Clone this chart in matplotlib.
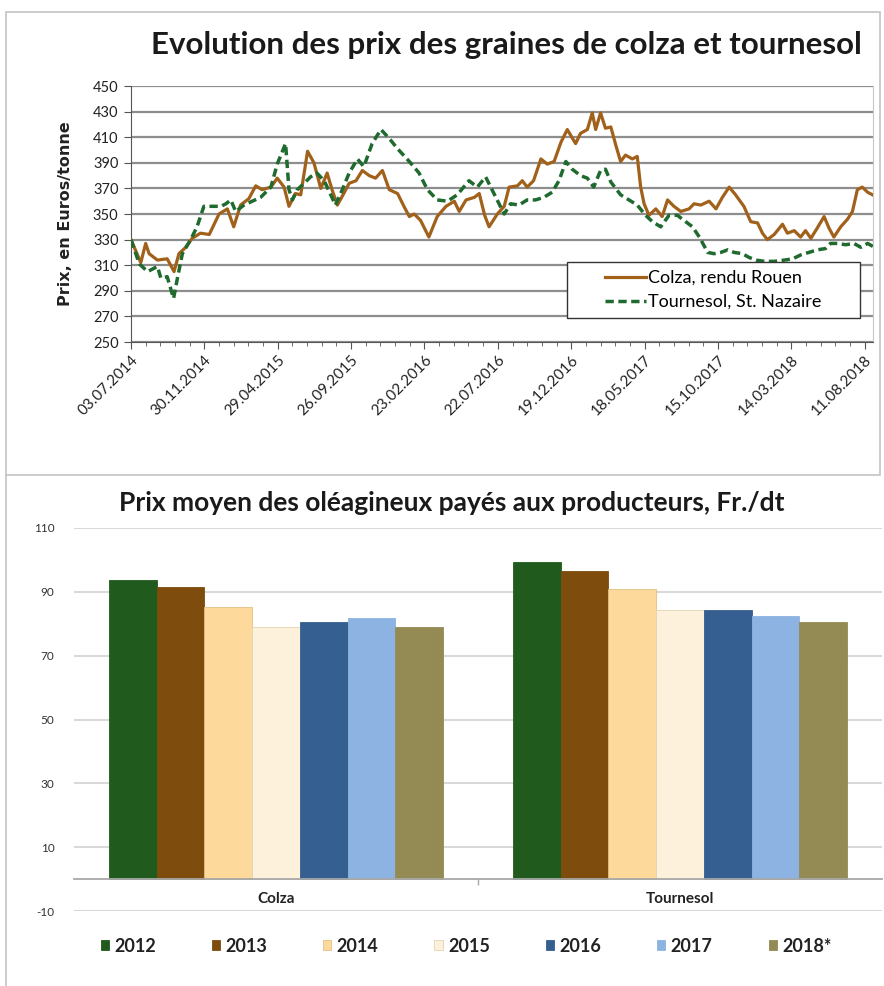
import numpy as np
import pandas as pd
import matplotlib
matplotlib.use('Agg')
import matplotlib.pyplot as plt
import matplotlib.dates as mdates
from matplotlib.patches import Patch, Rectangle
from matplotlib.lines import Line2D

plt.rcParams['axes.unicode_minus'] = False

# --- données du graphique du haut (prix en euros/tonne) ---
start_date = '2014-07-03'

colza_days = [0, 20, 30, 37, 54, 74, 88, 98, 112, 125, 142, 160, 180, 197, 210, 224, 241, 255, 268, 286,
              299, 313, 323, 336, 347, 361, 374, 388, 401, 411, 422, 435, 446, 460, 473, 487, 500, 514, 528, 545,
              558, 569, 579, 592, 609, 626, 644, 661, 671, 685, 702, 712, 723, 732, 749, 763, 773, 790, 800, 810,
              823, 838, 851, 865, 879, 892, 909, 919, 933, 943, 950, 960, 970, 981, 991, 1001, 1011, 1025, 1035, 1042,
              1049, 1059, 1073, 1086, 1097, 1110, 1124, 1141, 1151, 1165, 1182, 1196, 1209, 1223, 1236, 1253, 1267, 1281, 1291, 1301,
              1315, 1332, 1342, 1356, 1369, 1379, 1390, 1403, 1417, 1427, 1437, 1451, 1465, 1475, 1485, 1495, 1506, 1516]
colza_prix = [330, 312, 327, 319, 314, 315, 305, 319, 324, 331, 335, 334, 350, 354, 340, 357, 362, 372, 369, 371,
              378, 371, 356, 366, 365, 399, 390, 370, 382, 369, 357, 366, 374, 376, 384, 380, 378, 384, 369, 366,
              356, 348, 350, 345, 332, 348, 356, 360, 352, 361, 363, 366, 349, 340, 350, 356, 371, 372, 376, 371,
              376, 393, 389, 391, 406, 416, 405, 413, 416, 429, 416, 429, 417, 418, 404, 391, 396, 393, 395, 371,
              358, 349, 354, 348, 361, 356, 352, 354, 358, 357, 360, 354, 363, 371, 365, 356, 344, 343, 335, 330,
              334, 342, 335, 337, 332, 337, 331, 339, 348, 339, 332, 340, 346, 352, 369, 371, 367, 365]

tournesol_days = [0, 17, 34, 54, 61, 74, 87, 95, 105, 122, 135, 149, 167, 184, 194, 204, 214, 231, 248, 265,
                  286, 299, 316, 323, 330, 340, 354, 367, 380, 395, 418, 432, 446, 463, 476, 493, 511, 528, 545, 569,
                  589, 606, 626, 647, 667, 691, 708, 725, 742, 763, 776, 793, 810, 827, 844, 861, 875, 889, 902, 919,
                  933, 946, 960, 970, 981, 1001, 1018, 1035, 1052, 1066, 1083, 1100, 1117, 1134, 1148, 1162, 1179, 1192, 1206, 1220,
                  1233, 1250, 1264, 1278, 1295, 1315, 1336, 1353, 1369, 1386, 1403, 1420, 1430, 1444, 1461, 1478, 1492, 1506, 1520]
tournesol_prix = [330, 311, 305, 309, 300, 301, 284, 300, 319, 330, 340, 356, 356, 356, 358, 361, 352, 357, 360, 363,
                  371, 389, 405, 369, 361, 369, 374, 379, 382, 376, 357, 369, 382, 393, 387, 405, 416, 409, 401, 391,
                  382, 369, 361, 360, 365, 376, 371, 379, 366, 350, 358, 357, 361, 361, 363, 367, 376, 391, 385, 380,
                  378, 371, 384, 385, 375, 365, 361, 357, 349, 344, 340, 349, 349, 344, 340, 332, 320, 319, 320, 322,
                  320, 319, 316, 314, 313, 313, 314, 315, 318, 320, 322, 323, 327, 327, 326, 327, 324, 327, 324]

date_labels = ['03.07.2014', '30.11.2014', '29.04.2015', '26.09.2015', '23.02.2016', '22.07.2016',
               '19.12.2016', '18.05.2017', '15.10.2017', '14.03.2018', '11.08.2018']

# --- données du graphique du bas (Fr./dt) ---
cultures = ['Colza', 'Tournesol']
annees = ['2012', '2013', '2014', '2015', '2016', '2017', '2018*']
prix_moyens = {
    '2012': [93.7, 99.5],
    '2013': [91.4, 96.5],
    '2014': [85.2, 90.8],
    '2015': [79.1, 84.2],
    '2016': [80.7, 84.3],
    '2017': [81.9, 82.5],
    '2018*': [78.9, 80.5],
}
couleurs = ['#215a1d', '#7e4c0c', '#fdd99b', '#fdf1dc', '#365f91', '#8db3e2', '#948a54']
bords = ['#215a1d', '#7e4c0c', '#e2bf84', '#e3d3b5', '#365f91', '#8db3e2', '#948a54']

# --- figure ---
W, H = 884, 986
fig = plt.figure(figsize=(W / 100, H / 100), dpi=100)
fig.patch.set_facecolor('white')

def fx(px):
    return px / W

def fy(py):
    return 1 - py / H

# cadres gris autour des deux graphiques
fig.add_artist(Rectangle((fx(6), fy(475)), fx(880) - fx(6), fy(12) - fy(475),
                         transform=fig.transFigure, fill=False, ec='#c4c4c4', lw=1.2))
fig.add_artist(Line2D([fx(6), fx(6)], [fy(475), fy(986)], transform=fig.transFigure, color='#c4c4c4', lw=1.2))

# ===== graphique du haut =====
ax = fig.add_axes([fx(131), fy(342), fx(873) - fx(131), fy(86) - fy(342)])

t0 = pd.Timestamp(start_date)
x_colza = t0 + pd.to_timedelta(colza_days, unit='D')
x_tour = t0 + pd.to_timedelta(tournesol_days, unit='D')

ax.plot(x_colza, colza_prix, color='#a1611b', lw=2.3, label='Colza, rendu Rouen', zorder=3)
ax.plot(x_tour, tournesol_prix, color='#1f6a2f', lw=2.5, dashes=(2.4, 1.3), label='Tournesol, St. Nazaire', zorder=3)

ax.set_ylim(250, 450)
ax.set_yticks(np.arange(250, 451, 20))
ax.set_xlim(t0, t0 + pd.Timedelta(days=1517))

tick_dates = pd.to_datetime(date_labels, format='%d.%m.%Y')
ax.set_xticks(tick_dates)
ax.set_xticklabels(date_labels, rotation=45, ha='right', rotation_mode='anchor')
ax.xaxis.set_minor_locator(matplotlib.ticker.FixedLocator(
    mdates.date2num(t0 + pd.to_timedelta(np.arange(0, 1517, 30), unit='D'))))

ax.grid(axis='y', color='#8e8e8e', lw=1.6, zorder=1)
ax.set_axisbelow(True)
ax.spines['top'].set_visible(False)
ax.spines['right'].set_color('#c8c8c8')
ax.spines['left'].set_color('#555555')
ax.spines['bottom'].set_color('#555555')
ax.tick_params(axis='y', labelsize=10.5, length=5, direction='out', color='#555555', pad=4, labelcolor='#222222')
ax.tick_params(axis='x', which='major', labelsize=11, length=5, direction='out', color='#555555', pad=3, labelcolor='#222222')
ax.tick_params(axis='x', which='minor', length=3, direction='out', color='#555555')
for lab in ax.get_xticklabels() + ax.get_yticklabels():
    lab.set_family('Lato')

ax.set_ylabel('Prix, en Euros/tonne', family='DejaVu Sans', fontweight='bold', fontsize=11.5, color='#222222', labelpad=14)

# cadre de la légende, puis légende centrée dedans
ax.add_patch(Rectangle((0.587, 0.094), 0.395, 0.219, transform=ax.transAxes, facecolor='white',
                       edgecolor='#333333', lw=1.0, zorder=4))
leg = ax.legend(loc='center', bbox_to_anchor=(0.587 + 0.395 / 2, 0.094 + 0.219 / 2),
                frameon=False, handlelength=2.3, handletextpad=0.1, borderaxespad=0,
                labelspacing=0.45, borderpad=0.3, prop={'family': 'Lato', 'size': 13})
leg.set_zorder(5)

fig.text(fx(506), fy(45), 'Evolution des prix des graines de colza et tournesol', ha='center', va='center',
         family='Lato', fontweight='bold', fontsize=22.5, color='#1a1a1a')

# ===== graphique du bas =====
ax2 = fig.add_axes([fx(74), fy(911), fx(882) - fx(74), fy(528) - fy(911)])
n = len(annees)
bw = 0.118
xc = np.arange(len(cultures))
for i, an in enumerate(annees):
    ax2.bar(xc + (i - (n - 1) / 2) * bw, prix_moyens[an], width=bw, color=couleurs[i],
            edgecolor=bords[i], lw=0.6, label=an, zorder=3)

ax2.set_xlim(-0.5, 1.5)
ax2.set_ylim(-10, 110)
ax2.set_yticks(np.arange(-10, 111, 20))
ax2.grid(axis='y', color='#d9d9d9', lw=1.5, zorder=0)
ax2.set_axisbelow(True)
for s in ['top', 'right', 'left']:
    ax2.spines[s].set_visible(False)
ax2.spines['bottom'].set_position(('data', 0))
ax2.spines['bottom'].set_color('#a8a8a8')
ax2.spines['bottom'].set_linewidth(1.3)
ax2.spines['bottom'].set_zorder(4)
ax2.set_xticks(xc)
ax2.set_xticklabels(cultures, family='Lato', fontweight='bold', fontsize=11, color='#222222')
ax2.xaxis.set_minor_locator(matplotlib.ticker.FixedLocator([0.5]))
ax2.tick_params(axis='x', which='major', length=0, pad=9)
ax2.tick_params(axis='x', which='minor', length=4, color='#a8a8a8', width=1)
ax2.tick_params(axis='y', length=0, pad=14, labelsize=8.5, labelcolor='#333333')
for lab in ax2.get_yticklabels():
    lab.set_family('Lato')

fig.text(fx(452), fy(503), 'Prix moyen des oléagineux payés aux producteurs, Fr./dt', ha='center', va='center',
         family='Lato', fontweight='bold', fontsize=19, color='#1a1a1a')

handles = [Patch(facecolor=couleurs[i], edgecolor=bords[i], lw=0.6) for i in range(n)]
fig.legend(handles, annees, loc='center', bbox_to_anchor=(fx(466), fy(946)), ncol=n, frameon=False,
           handlelength=0.45, handleheight=0.5, handletextpad=0.3, columnspacing=3.1,
           prop={'family': 'Lato', 'weight': 'bold', 'size': 13}, labelcolor='#222222')

fig.savefig('out.png', dpi=100, facecolor='white')
